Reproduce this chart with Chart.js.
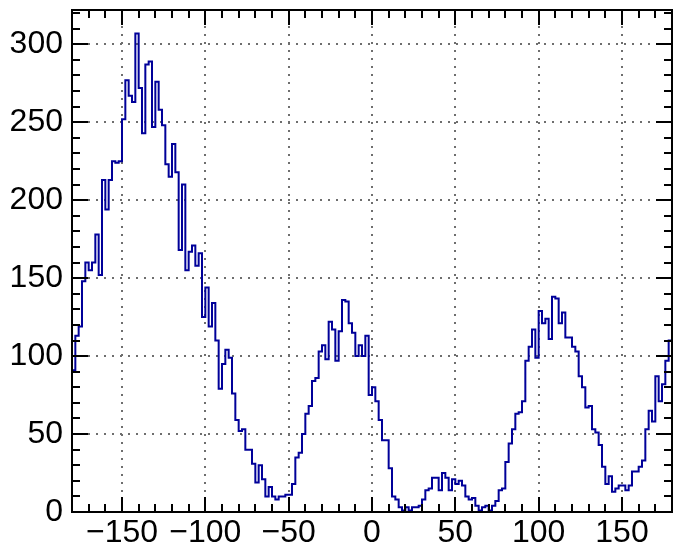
<!DOCTYPE html>
<html>
<head>
<meta charset="utf-8">
<script src="https://cdn.jsdelivr.net/npm/chart.js@4/dist/chart.umd.min.js"></script>
<style>
html, body { margin: 0; padding: 0; background: #fff; }
#wrap { width: 676px; height: 547px; position: relative; }
</style>
</head>
<body>
<div id="wrap"><canvas id="myChart"></canvas></div>
<script>
// histogram: 180 bins of 2 degrees from -180 to 180
var binLow = -180;
var binWidth = 2;
var counts = [
    91, 113, 119, 148, 160, 155, 160, 178, 152, 213,
    194, 213, 225, 224, 225, 252, 277, 267, 263, 307,
    272, 243, 287, 289, 247, 276, 258, 248, 223, 215,
    236, 218, 168, 210, 155, 167, 171, 158, 166, 125,
    144, 119, 134, 110, 79, 95, 104, 99, 76, 59,
    52, 53, 40, 40, 31, 19, 30, 21, 10, 16,
    10, 8, 10, 10, 11, 11, 18, 35, 38, 50,
    63, 68, 84, 86, 103, 107, 98, 122, 117, 97,
    116, 136, 135, 121, 115, 100, 107, 100, 113, 75,
    80, 71, 59, 46, 46, 28, 10, 8, 3, 1,
    3, 1, 3, 3, 4, 8, 14, 15, 22, 22,
    14, 25, 22, 14, 21, 18, 20, 17, 10, 8,
    9, 4, 1, 3, 4, 1, 4, 7, 14, 15,
    32, 44, 53, 63, 64, 71, 97, 106, 117, 99,
    129, 121, 124, 111, 138, 137, 121, 128, 112, 112,
    106, 103, 87, 80, 67, 68, 53, 51, 43, 29,
    18, 23, 13, 15, 17, 17, 14, 17, 26, 26,
    29, 33, 53, 65, 58, 87, 71, 82, 97, 110
];

var xTickValues = [-150, -100, -50, 0, 50, 100, 150];
var xTickLabels = ['\u2212150', '\u2212100', '\u221250', '0', '50', '100', '150'];
var yTickValues = [0, 50, 100, 150, 200, 250, 300];
var yTickLabels = ['0', '50', '100', '150', '200', '250', '300'];
var xRange = [-180, 180];
var yRange = [0, 322];

// points at left bin edges, plus closing point at right edge
var points = [];
for (var i = 0; i < counts.length; i++) {
    points.push({x: binLow + i * binWidth, y: counts[i]});
}
points.push({x: binLow + counts.length * binWidth, y: counts[counts.length - 1]});

// ROOT-like frame with inside ticks on all four sides
var rootFrame = {
    id: 'rootFrame',
    afterDatasetsDraw: function (chart) {
        var ctx = chart.ctx;
        var a = chart.chartArea;
        var xs = chart.scales.x;
        var ys = chart.scales.y;
        ctx.save();
        ctx.strokeStyle = '#000';
        ctx.lineWidth = 2;
        ctx.beginPath();
        for (var v = xRange[0]; v <= xRange[1]; v += 10) {
            var px = Math.round(xs.getPixelForValue(v));
            var len = (v % 50 === 0) ? 15 : 8;
            ctx.moveTo(px, a.bottom);
            ctx.lineTo(px, a.bottom - len);
            ctx.moveTo(px, a.top);
            ctx.lineTo(px, a.top + len);
        }
        for (var w = 0; w <= yRange[1]; w += 10) {
            var py = Math.round(ys.getPixelForValue(w));
            var l2 = (w % 50 === 0) ? 16 : 8;
            ctx.moveTo(a.left, py);
            ctx.lineTo(a.left + l2, py);
            ctx.moveTo(a.right, py);
            ctx.lineTo(a.right - l2, py);
        }
        ctx.stroke();
        ctx.strokeRect(a.left, a.top, a.right - a.left, a.bottom - a.top);
        ctx.restore();
    }
};

var gridStyle = {
    color: '#6e6e6e',
    lineWidth: 2,
    drawTicks: false
};

var ctx = document.getElementById('myChart');

var chart = new Chart(ctx, {
    type: 'line',
    data: {
        datasets: [
            {
                data: points,
                borderColor: '#000099',
                borderWidth: 2,
                stepped: true,
                fill: false,
                pointRadius: 0,
                tension: 0
            }
        ]
    },
    options: {
        responsive: true,
        maintainAspectRatio: false,
        animation: false,
        layout: {padding: {top: 10, right: 4, left: 0, bottom: 0}},
        plugins: {legend: {display: false}, tooltip: {enabled: false}},
        scales: {
            x: {
                type: 'linear',
                min: xRange[0],
                max: xRange[1],
                afterBuildTicks: function (scale) {
                    scale.ticks = xTickValues.map(function (v) { return {value: v}; });
                },
                afterFit: function (scale) {
                    scale.height = 35;
                    scale.paddingLeft = 0;
                    scale.paddingRight = 0;
                },
                grid: gridStyle,
                border: {display: false, dash: [2, 6]},
                ticks: {
                    autoSkip: false,
                    maxRotation: 0,
                    padding: 2,
                    color: '#000',
                    font: {family: 'Liberation Sans', size: 32},
                    callback: function (value, index) { return xTickLabels[index]; }
                }
            },
            y: {
                type: 'linear',
                min: yRange[0],
                max: yRange[1],
                afterBuildTicks: function (scale) {
                    scale.ticks = yTickValues.map(function (v) { return {value: v}; });
                },
                afterFit: function (scale) {
                    scale.width = 72;
                    scale.paddingTop = 0;
                    scale.paddingBottom = 0;
                },
                grid: gridStyle,
                border: {display: false, dash: [2, 6]},
                ticks: {
                    padding: 9,
                    color: '#000',
                    font: {family: 'Liberation Sans', size: 32},
                    callback: function (value, index) { return yTickLabels[index]; }
                }
            }
        }
    },
    plugins: [rootFrame]
});
</script>
</body>
</html>
